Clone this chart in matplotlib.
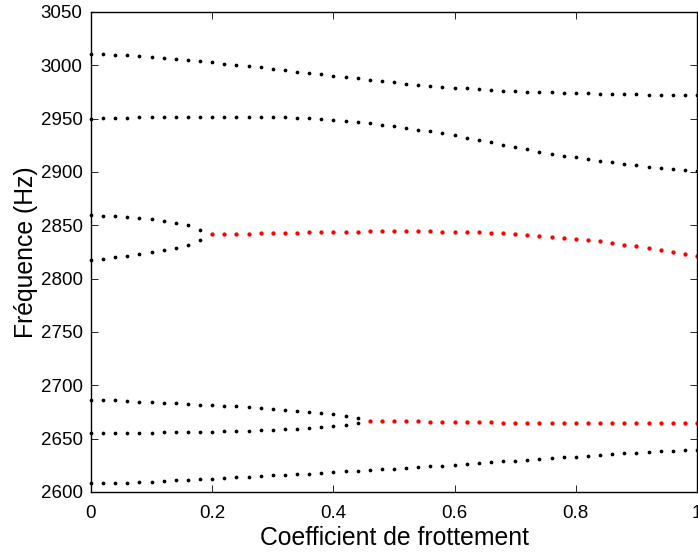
import numpy as np
import matplotlib
matplotlib.use("Agg")
import matplotlib.pyplot as plt

plt.rcParams['font.family'] = ['Liberation Sans', 'DejaVu Sans']

# friction coefficient samples
mu = [round(0.02 * i, 2) for i in range(51)]

# mode 1 (top)
f_top = [3011, 3010.5, 3010, 3009.3, 3008.6, 3007.8, 3006.8, 3005.9, 3004.9, 3003.8,
         3002.7, 3001.6, 3000.4, 2999.2, 2998, 2996.8, 2995.5, 2994.2, 2992.9, 2991.6,
         2990.3, 2989, 2987.7, 2986.4, 2985.2, 2984, 2982.9, 2981.9, 2980.9, 2980,
         2979.2, 2978.4, 2977.7, 2977, 2976.4, 2975.9, 2975.4, 2975, 2974.6, 2974.2,
         2973.9, 2973.6, 2973.3, 2973.1, 2972.9, 2972.7, 2972.5, 2972.3, 2972.2, 2972.1, 2972]

# mode 2
f_2950 = [2950, 2950.3, 2950.6, 2950.9, 2951.1, 2951.3, 2951.5, 2951.7, 2951.8, 2951.9,
          2952, 2952, 2952, 2951.9, 2951.7, 2951.5, 2951.2, 2950.9, 2950.3, 2949.6,
          2948.7, 2947.8, 2946.8, 2945.6, 2944.3, 2942.8, 2941.3, 2939.7, 2938, 2936.2,
          2934.3, 2932.3, 2930.3, 2928.2, 2925.5, 2923.2, 2921.1, 2919.1, 2917.2, 2915.4,
          2913.7, 2912.1, 2910.6, 2909.1, 2907.7, 2906.3, 2905, 2903.8, 2902.6, 2901.5, 2900.5]

# coupled pair near 2840 Hz (before coalescence, mu = 0 .. 0.18)
mu_a = mu[:10]
f_2860 = [2859.4, 2859.1, 2858.4, 2857.5, 2856.6, 2855.6, 2854.1, 2852.2, 2850, 2845.9]
f_2818 = [2817.8, 2818.8, 2820.3, 2821.6, 2823.1, 2824.7, 2826.6, 2828.8, 2831.9, 2836.3]
# after coalescence (unstable, mu = 0.20 .. 1.0)
mu_a_red = mu[10:]
f_2840_red = [2841.6, 2841.7, 2841.9, 2842.2, 2842.5, 2842.8, 2843, 2843.2, 2843.4, 2843.6,
              2843.8, 2844, 2844.2, 2844.3, 2844.4, 2844.5, 2844.5, 2844.5, 2844.4, 2844.2,
              2844, 2843.7, 2843.4, 2843, 2842.4, 2841.8, 2841.1, 2840.4, 2839.5, 2838.5,
              2837.4, 2836.2, 2834.9, 2833.5, 2832, 2830.4, 2828.7, 2826.9, 2825, 2823, 2821]

# coupled pair near 2665 Hz (before coalescence, mu = 0 .. 0.44)
mu_b = mu[:23]
f_2687 = [2686.6, 2686.3, 2685.9, 2685.3, 2684.7, 2684.1, 2683.4, 2683.1, 2682.5, 2681.9,
          2681.6, 2680.9, 2680.3, 2679.7, 2679.1, 2678.1, 2677.2, 2675.9, 2675, 2673.8,
          2672.8, 2671.6, 2669.4]
f_2655 = [2655, 2655, 2655.3, 2655.3, 2655.6, 2655.6, 2655.9, 2655.9, 2656.2, 2656.6,
          2656.6, 2656.9, 2657.2, 2657.5, 2657.8, 2658.4, 2658.8, 2659.4, 2660, 2660.6,
          2661.6, 2662.8, 2665]
mu_b_red = mu[23:]
f_2665_red = [2666.6, 2666.6, 2666.6, 2666.3, 2666.3, 2665.9, 2665.9, 2665.6, 2665.6, 2665.3,
              2665.3, 2665, 2665, 2664.8, 2664.7, 2664.6, 2664.5, 2664.4, 2664.4, 2664.4,
              2664.4, 2664.4, 2664.4, 2664.4, 2664.4, 2664.4, 2664.4, 2664.4]

# bottom mode
f_bottom = [2608.1, 2608.2, 2608.4, 2608.8, 2609.3, 2609.7, 2610.3, 2610.9, 2611.6, 2612.2,
            2612.6, 2613.1, 2613.8, 2614.5, 2615, 2615.6, 2616, 2616.6, 2617.2, 2617.9,
            2618.5, 2619.3, 2620, 2620.6, 2621.2, 2621.9, 2622.7, 2623.4, 2624.1, 2624.8,
            2625.6, 2626.3, 2627.1, 2627.8, 2628.7, 2629.4, 2630.2, 2630.9, 2631.8, 2632.5,
            2633.1, 2633.9, 2634.6, 2635.3, 2636.1, 2636.8, 2637.5, 2638.1, 2638.7, 2639.1, 2639.5]

xticks = [0, 0.2, 0.4, 0.6, 0.8, 1]
xticklabels = ['0', '0.2', '0.4', '0.6', '0.8', '1']
yticks = list(range(2600, 3051, 50))

fig = plt.figure(figsize=(6.98, 5.52), dpi=100)
ax = fig.add_axes([91 / 698, 1 - 492 / 552, 606 / 698, 480 / 552])

ms = 2.7
kw_black = dict(linestyle='none', marker='o', markersize=ms, color='black',
                markeredgewidth=0, clip_on=False)
kw_red = dict(linestyle='none', marker='o', markersize=ms + 0.4, color='red',
              markeredgewidth=0, clip_on=False)

ax.plot(mu, f_top, **kw_black)
ax.plot(mu, f_2950, **kw_black)
ax.plot(mu_a, f_2860, **kw_black)
ax.plot(mu_a, f_2818, **kw_black)
ax.plot(mu_a_red, f_2840_red, **kw_red)
ax.plot(mu_b, f_2687, **kw_black)
ax.plot(mu_b, f_2655, **kw_black)
ax.plot(mu_b_red, f_2665_red, **kw_red)
ax.plot(mu, f_bottom, **kw_black)

ax.set_xlim(0, 1)
ax.set_ylim(2600, 3050)
ax.set_xticks(xticks)
ax.set_xticklabels(xticklabels)
ax.set_yticks(yticks)
ax.tick_params(direction='in', length=5, width=0.6, top=True, right=True,
               labelsize=13.5)
ax.tick_params(axis='y', pad=6)
ax.tick_params(axis='x', pad=9)
for s in ax.spines.values():
    s.set_linewidth(1.0)

ax.set_xlabel('Coefficient de frottement', fontsize=17.8, labelpad=3)
ax.set_ylabel('Fréquence (Hz)', fontsize=17.8)
ax.yaxis.set_label_coords(-0.088, 0.5)

fig.savefig('out.png', dpi=100)
